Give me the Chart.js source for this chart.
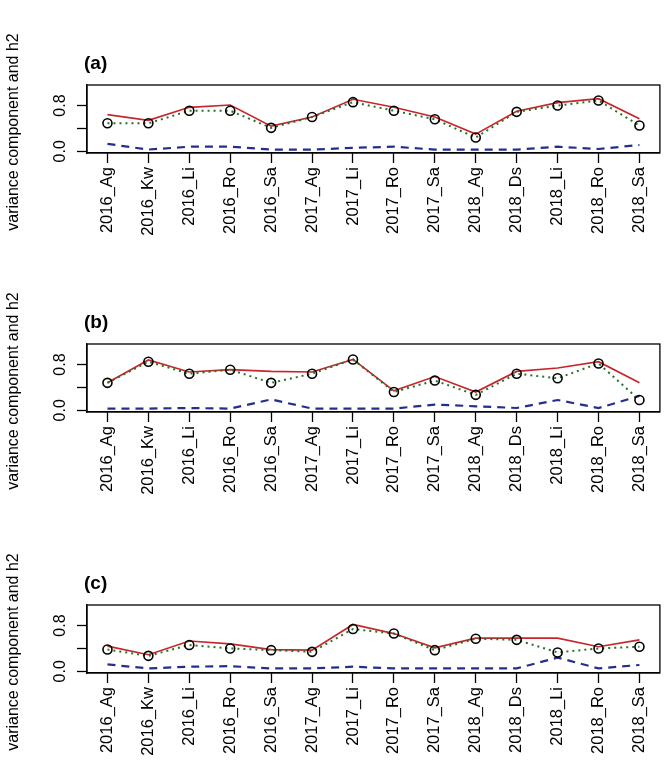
<!DOCTYPE html>
<html>
<head>
<meta charset="utf-8">
<script src="https://cdn.jsdelivr.net/npm/chart.js@4.4.1/dist/chart.umd.min.js"></script>
<style>
  html, body { margin: 0; padding: 0; background: #fff; overflow: hidden; }
  .panel { position: absolute; left: 0; width: 666px; height: 251px; }
</style>
</head>
<body>
<div class="panel" style="top:0px"><canvas id="pa"></canvas></div>
<div class="panel" style="top:259px"><canvas id="pb"></canvas></div>
<div class="panel" style="top:520px"><canvas id="pc"></canvas></div>
<script>
// environments on the x axis
const envs = ["2016_Ag","2016_Kw","2016_Li","2016_Ro","2016_Sa","2017_Ag","2017_Li",
              "2017_Ro","2017_Sa","2018_Ag","2018_Ds","2018_Li","2018_Ro","2018_Sa"];
const yTicks = [0, 0.2, 0.4, 0.6, 0.8, 1.0];
const yLabelled = [0, 0.8];
const yTitle = 'variance component and h2';

// (a)
const redA   = [0.64,0.54,0.77,0.81,0.44,0.60,0.91,0.77,0.60,0.30,0.70,0.85,0.92,0.57];
const greenA = [0.49,0.49,0.71,0.71,0.41,0.60,0.86,0.71,0.56,0.24,0.69,0.80,0.89,0.45];
const blueA  = [0.13,0.03,0.08,0.08,0.03,0.03,0.06,0.08,0.03,0.03,0.03,0.08,0.04,0.11];
// (b)
const redB   = [0.48,0.88,0.67,0.71,0.68,0.67,0.89,0.34,0.59,0.32,0.68,0.74,0.85,0.48];
const greenB = [0.48,0.85,0.64,0.71,0.48,0.64,0.89,0.32,0.52,0.27,0.64,0.56,0.82,0.18];
const blueB  = [0.03,0.03,0.04,0.03,0.19,0.03,0.03,0.03,0.10,0.07,0.04,0.18,0.04,0.25];
// (c)
const redC   = [0.44,0.29,0.53,0.48,0.38,0.37,0.82,0.66,0.41,0.58,0.58,0.58,0.43,0.55];
const greenC = [0.38,0.27,0.46,0.40,0.37,0.34,0.74,0.66,0.37,0.57,0.55,0.33,0.40,0.43];
const blueC  = [0.12,0.05,0.08,0.09,0.05,0.05,0.08,0.05,0.05,0.05,0.05,0.24,0.05,0.11];

const FONT = '"Liberation Sans", Arial, sans-serif';

// box round the plot region, the panel letter and the y title
const frame = {
  id: 'frame',
  afterDraw(chart, args, opts) {
    const ctx = chart.ctx, a = chart.chartArea;
    ctx.save();
    ctx.strokeStyle = '#000';
    ctx.lineWidth = 1.3;
    ctx.strokeRect(a.left, a.top, a.right - a.left, a.bottom - a.top);
    ctx.fillStyle = '#000';
    ctx.font = 'bold 19px ' + FONT;
    ctx.textBaseline = 'middle';
    ctx.fillText(opts.tag, a.left - 3, a.top - 21);
    // y title sits a little below the box centre, as in the figure
    ctx.font = '16px ' + FONT;
    ctx.textAlign = 'center';
    ctx.translate(14, (a.top + a.bottom) / 2 + 13);
    ctx.rotate(-Math.PI / 2);
    ctx.fillText(yTitle, 0, 0);
    ctx.restore();
  }
};

function panel(id, tag, red, green, blue) {
  new Chart(document.getElementById(id), {
    type: 'line',
    data: {
      labels: envs,
      datasets: [{
        data: red,
        borderColor: '#c8262c',
        borderWidth: 1.7,
        pointRadius: 0,
        order: 1
      }, {
        data: green,
        borderColor: '#257229',
        borderWidth: 2,
        borderDash: [2, 4],
        pointRadius: 4.5,
        pointBorderWidth: 1.6,
        pointBorderColor: '#000',
        pointBackgroundColor: 'rgba(0,0,0,0)',
        order: 0
      }, {
        data: blue,
        borderColor: '#22308c',
        borderWidth: 2.2,
        borderDash: [8, 6],
        pointRadius: 0,
        order: 2
      }]
    },
    options: {
      responsive: true,
      maintainAspectRatio: false,
      animation: false,
      events: [],
      layout: { padding: { top: 85, right: 6, bottom: 0, left: 0 } },
      plugins: {
        legend: { display: false },
        tooltip: { enabled: false },
        frame: { tag: tag }
      },
      scales: {
        x: {
          offset: true,
          afterFit: s => { s.height = 98; },
          border: { display: true, color: '#000', width: 1.3 },
          grid: { drawOnChartArea: false, drawTicks: true, tickLength: 10, tickColor: '#000', tickWidth: 1.3 },
          ticks: {
            autoSkip: false, minRotation: 90, maxRotation: 90, padding: 4,
            color: '#000', font: { family: FONT, size: 16.5 }
          }
        },
        y: {
          min: -0.03,
          max: 1.16,
          afterFit: s => { s.width = 87; },
          afterBuildTicks: s => { s.ticks = yTicks.map(v => ({ value: v })); },
          border: { display: true, color: '#000', width: 1.3 },
          grid: { drawOnChartArea: false, drawTicks: true, tickLength: 10, tickColor: '#000', tickWidth: 1.3 },
          ticks: {
            minRotation: 90, maxRotation: 90, crossAlign: 'center', padding: 5,
            color: '#000', font: { family: FONT, size: 16 },
            callback: v => yLabelled.some(t => Math.abs(t - v) < 1e-9) ? v.toFixed(1) : ''
          }
        }
      }
    },
    plugins: [frame]
  });
}

panel('pa', '(a)', redA, greenA, blueA);
panel('pb', '(b)', redB, greenB, blueB);
panel('pc', '(c)', redC, greenC, blueC);
</script>
</body>
</html>
